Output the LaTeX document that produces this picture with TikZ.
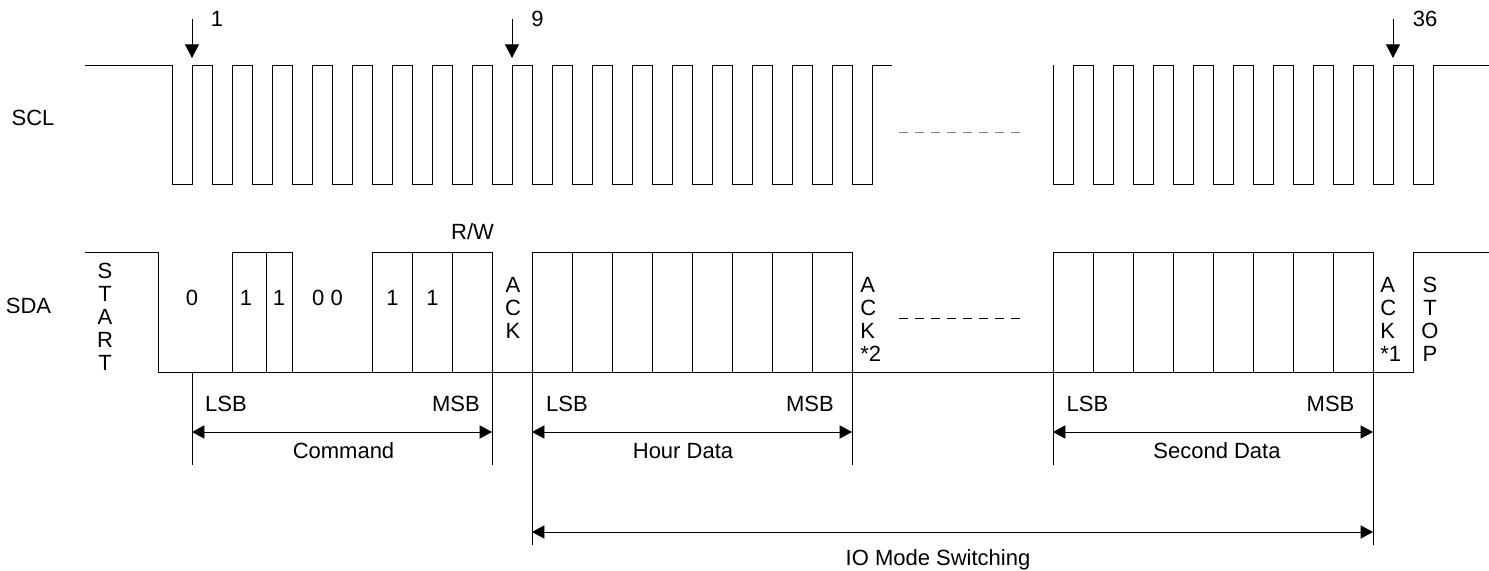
\documentclass[tikz,border=0pt]{standalone}
\usepackage{fontspec}
\setmainfont{Liberation Sans}
\usetikzlibrary{arrows.meta}
\pgfdeclarelayer{background}
\pgfdeclarelayer{foreground}
\pgfsetlayers{background,main,foreground}

\begin{document}
\begin{tikzpicture}[x=0.5pt,y=-0.5pt,line width=0.6pt,
  txt/.style={font=\fontsize{11}{11.5}\selectfont,inner sep=0pt,anchor=base},
  vtxt/.style={font=\fontsize{11}{11.5}\selectfont,inner sep=0pt,align=center,anchor=north},
  dim/.style={{Triangle[length=6.2pt,width=6.6pt]}-{Triangle[length=6.2pt,width=6.6pt]}},
  ptr/.style={-{Triangle[length=6.8pt,width=7pt]}}]
\useasboundingbox (0,0) rectangle (1489,571);
\begin{pgfonlayer}{background}
\draw[gray,dash pattern=on 4.5pt off 3.5pt] (899,132) -- (1027,132);
\draw[dash pattern=on 4.5pt off 3.5pt] (899,318) -- (1027,318);
\draw (192,372) -- (192,465);
\draw (532,372) -- (532,545) (852,372) -- (852,465);
\draw (1053,372) -- (1053,465) (1373,372) -- (1373,545);
\end{pgfonlayer}
% SCL
\draw (85,65) -- (172,65) -- (172,184) \foreach \x in {192,232,...,832} {-- (\x,184) -- (\x,65) -- (\x+20,65) -- (\x+20,184)} -- (872,184) -- (872,65) -- (892,65);
\draw (1053,65) -- (1053,184) \foreach \x in {1073,1113,...,1393} {-- (\x,184) -- (\x,65) -- (\x+20,65) -- (\x+20,184)} -- (1433,184) -- (1433,65) -- (1489,65);
\node[txt] (scl) at (33,125.5) {SCL};
\coordinate (clk1a) at (192,19); \coordinate (clk1b) at (192,58);
\coordinate (clk9a) at (512,19); \coordinate (clk9b) at (512,58);
\coordinate (clk36a) at (1393,19); \coordinate (clk36b) at (1393,58);
\draw[ptr] (clk1a) -- (clk1b);
\draw[ptr] (clk9a) -- (clk9b);
\draw[ptr] (clk36a) -- (clk36b);
\node[txt] (n1) at (217,27) {1};
\node[txt] (n9) at (537.5,27) {9};
\node[txt] (n36) at (1425,27) {36};
% SDA
\draw (85,252) -- (158,252) -- (158,372) -- (1413,372) -- (1413,252) -- (1489,252);
\draw (232,372) -- (232,252) -- (292,252) -- (292,372) (266,252) -- (266,372);
\draw (372,372) -- (372,252) -- (492,252) -- (492,465) (412,252) -- (412,372) (452,252) -- (452,372);
\draw (532,252) rectangle (852,372);
\foreach \x in {572,612,...,812} \draw (\x,252) -- (\x,372);
\draw (1053,252) rectangle (1373,372);
\foreach \x in {1093,1133,...,1333} \draw (\x,252) -- (\x,372);
\node[txt] (sda) at (28.5,313.5) {SDA};
\node[vtxt] (start) at (105,263) {S\\T\\A\\R\\T};
\node[txt] (b0) at (192,305.5) {0};
\node[txt] (b1) at (246,305.5) {1};
\node[txt] (b2) at (279,305.5) {1};
\node[txt] (b34) at (327.5,305.5) {0 0};
\node[txt] (b5) at (392.5,305.5) {1};
\node[txt] (b6) at (432.5,305.5) {1};
\node[txt] (rw) at (472.5,240) {R/W};
\node[vtxt] (ack) at (513,277) {A\\C\\K};
\node[vtxt,align=left,anchor=north west] (ack2) at (860,277) {A\\C\\K\\*2};
\node[vtxt,align=left,anchor=north west] (ack1) at (1380,277) {A\\C\\K\\*1};
\node[vtxt] (stop) at (1430,277) {S\\T\\O\\P};
% ranges
\coordinate (cmdL) at (192,432); \coordinate (cmdR) at (492,432);
\coordinate (hourL) at (532,432); \coordinate (hourR) at (852,432);
\coordinate (secL) at (1053,432); \coordinate (secR) at (1373,432);
\coordinate (ioL) at (532,532); \coordinate (ioR) at (1373,532);
\draw[dim] (cmdL) -- (cmdR);
\draw[dim] (hourL) -- (hourR);
\draw[dim] (secL) -- (secR);
\draw[dim] (ioL) -- (ioR);
\node[txt] (lsb1) at (226,411.5) {LSB};
\node[txt] (msb1) at (456,411.5) {MSB};
\node[txt] (cmd) at (343.5,459) {Command};
\node[txt] (lsb2) at (567,411.5) {LSB};
\node[txt] (msb2) at (810,411.5) {MSB};
\node[txt] (hour) at (683,459) {Hour Data};
\node[txt] (lsb3) at (1087.5,411.5) {LSB};
\node[txt] (msb3) at (1330.5,411.5) {MSB};
\node[txt] (sec) at (1217,459) {Second Data};
\node[txt] (io) at (938,565.5) {IO Mode Switching};
\end{tikzpicture}
\end{document}
